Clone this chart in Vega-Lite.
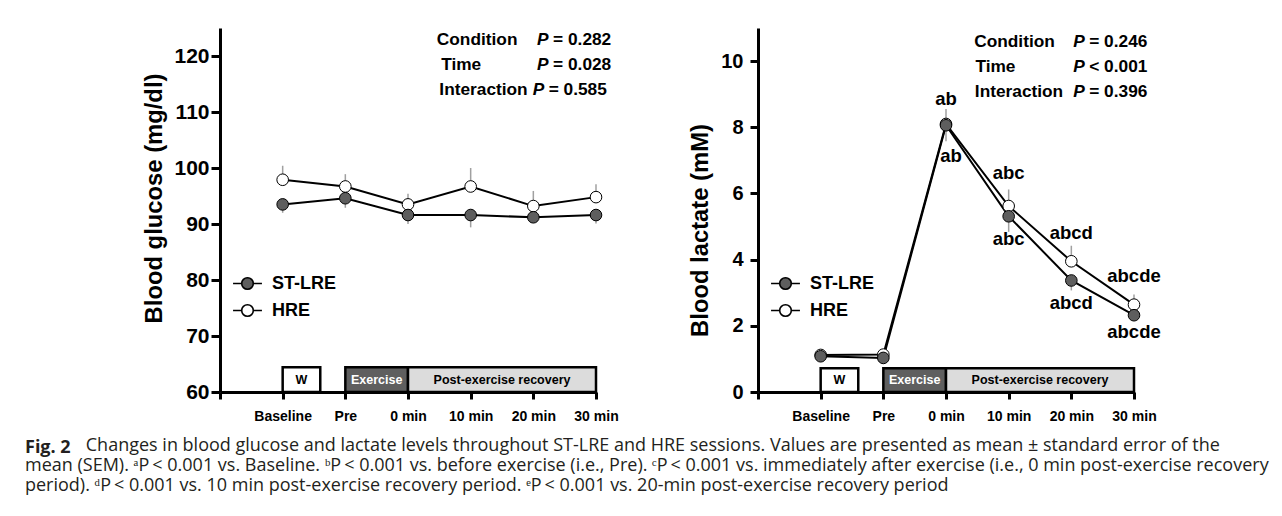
{
  "$schema": "https://vega.github.io/schema/vega-lite/v6.json",
  "background": "white",
  "padding": {"left": 25, "top": 28, "right": 10, "bottom": 10},
  "bounds": "flush",
  "spacing": 162,
  "resolve": {"scale": {"fill": "independent"}, "legend": {"fill": "independent"}},
  "title": {
    "text": "Fig. 2",
    "subtitle": [
      "\u200b\u00a0\u00a0\u00a0\u00a0\u00a0\u00a0\u00a0\u00a0\u00a0\u00a0\u00a0\u00a0\u00a0Changes in blood glucose and lactate levels throughout ST-LRE and HRE sessions. Values are presented as mean ± standard error of the",
      "mean (SEM). ᵃP\u2009< 0.001 vs. Baseline. ᵇP\u2009< 0.001 vs. before exercise (i.e., Pre). ᶜP\u2009< 0.001 vs. immediately after exercise (i.e., 0 min post-exercise recovery",
      "period). ᵈP\u2009< 0.001 vs. 10 min post-exercise recovery period. ᵉP\u2009< 0.001 vs. 20-min post-exercise recovery period"
    ],
    "orient": "bottom",
    "anchor": "start",
    "frame": "group",
    "font": "Open Sans",
    "fontSize": 18,
    "fontWeight": "bold",
    "color": "#231f20",
    "subtitleFont": "Open Sans",
    "subtitleFontSize": 18,
    "subtitleFontWeight": "normal",
    "subtitleColor": "#231f20",
    "subtitleLineHeight": 20,
    "subtitlePadding": -20,
    "offset": 16,
    "dx": -195
  },
  "datasets": {
    "glucose": [
      {"condition": "HRE", "t": 1, "mean": 97.9, "lo": 97.9, "hi": 100.4},
      {"condition": "HRE", "t": 2, "mean": 96.7, "lo": 96.7, "hi": 98.9},
      {"condition": "HRE", "t": 3, "mean": 93.5, "lo": 93.5, "hi": 95.4},
      {"condition": "HRE", "t": 4, "mean": 96.7, "lo": 96.7, "hi": 100.0},
      {"condition": "HRE", "t": 5, "mean": 93.2, "lo": 93.2, "hi": 95.9},
      {"condition": "HRE", "t": 6, "mean": 94.8, "lo": 94.8, "hi": 97.1},
      {"condition": "ST-LRE", "t": 1, "mean": 93.5, "lo": 92.0, "hi": 93.5},
      {"condition": "ST-LRE", "t": 2, "mean": 94.6, "lo": 92.9, "hi": 94.6},
      {"condition": "ST-LRE", "t": 3, "mean": 91.6, "lo": 90.0, "hi": 91.6},
      {"condition": "ST-LRE", "t": 4, "mean": 91.6, "lo": 89.4, "hi": 91.6},
      {"condition": "ST-LRE", "t": 5, "mean": 91.2, "lo": 90.3, "hi": 91.2},
      {"condition": "ST-LRE", "t": 6, "mean": 91.6, "lo": 90.1, "hi": 91.6}
    ],
    "lactate": [
      {"condition": "HRE", "t": 1, "mean": 1.12, "lo": 1.12, "hi": 1.2, "lab": null},
      {"condition": "HRE", "t": 2, "mean": 1.13, "lo": 1.13, "hi": 1.22, "lab": null},
      {"condition": "HRE", "t": 3, "mean": 8.1, "lo": 8.1, "hi": 8.55, "lab": "ab"},
      {"condition": "HRE", "t": 4, "mean": 5.62, "lo": 5.62, "hi": 6.12, "lab": "abc"},
      {"condition": "HRE", "t": 5, "mean": 3.95, "lo": 3.95, "hi": 4.42, "lab": "abcd"},
      {"condition": "HRE", "t": 6, "mean": 2.64, "lo": 2.64, "hi": 2.95, "lab": "abcde"},
      {"condition": "ST-LRE", "t": 1, "mean": 1.08, "lo": 1.0, "hi": 1.08, "lab": null},
      {"condition": "ST-LRE", "t": 2, "mean": 1.03, "lo": 0.95, "hi": 1.03, "lab": null},
      {"condition": "ST-LRE", "t": 3, "mean": 8.06, "lo": 7.58, "hi": 8.06, "lab": "ab"},
      {"condition": "ST-LRE", "t": 4, "mean": 5.31, "lo": 4.84, "hi": 5.31, "lab": "abc"},
      {"condition": "ST-LRE", "t": 5, "mean": 3.37, "lo": 3.07, "hi": 3.37, "lab": "abcd"},
      {"condition": "ST-LRE", "t": 6, "mean": 2.32, "lo": 2.22, "hi": 2.32, "lab": "abcde"}
    ],
    "phasesL": [
      {"phase": "W", "x0": 1, "x1": 1.6, "xm": 1.3, "y0": 60, "y1": 64.4, "ym": 62.2},
      {"phase": "Exercise", "x0": 2, "x1": 3, "xm": 2.5, "y0": 60, "y1": 64.4, "ym": 62.2},
      {"phase": "Post-exercise recovery", "x0": 3, "x1": 6, "xm": 4.5, "y0": 60, "y1": 64.4, "ym": 62.2}
    ],
    "phasesR": [
      {"phase": "W", "x0": 1, "x1": 1.6, "xm": 1.3, "y0": 0, "y1": 0.72, "ym": 0.36},
      {"phase": "Exercise", "x0": 2, "x1": 3, "xm": 2.5, "y0": 0, "y1": 0.72, "ym": 0.36},
      {"phase": "Post-exercise recovery", "x0": 3, "x1": 6, "xm": 4.5, "y0": 0, "y1": 0.72, "ym": 0.36}
    ],
    "statsL": [
      {"name": "Condition", "p": "= 0.282", "nx": 3.46, "px": 5.06, "y": 122.9},
      {"name": "Time", "p": "= 0.028", "nx": 3.53, "px": 5.06, "y": 118.4},
      {"name": "Interaction", "p": "= 0.585", "nx": 3.5, "px": 4.99, "y": 113.9}
    ],
    "statsR": [
      {"name": "Condition", "p": "= 0.246", "nx": 3.45, "px": 5.03, "y": 10.58},
      {"name": "Time", "p": "< 0.001", "nx": 3.47, "px": 5.03, "y": 9.82},
      {"name": "Interaction", "p": "= 0.396", "nx": 3.46, "px": 5.03, "y": 9.06}
    ]
  },
  "hconcat": [
    {
      "width": 376,
      "height": 364,
      "encoding": {
        "x": {
          "field": "t", "type": "quantitative",
          "scale": {"domain": [0, 6], "nice": false, "zero": false},
          "axis": {
            "values": [0, 1, 2, 3, 4, 5, 6],
            "labelExpr": "datum.value==1?'Baseline':datum.value==2?'Pre':datum.value==3?'0 min':datum.value==4?'10 min':datum.value==5?'20 min':datum.value==6?'30 min':''",
            "title": null, "labelFontSize": 14, "tickSize": 7, "labelPadding": 10,
            "labelFlush": false, "labelOverlap": false
          }
        },
        "y": {
          "field": "mean", "type": "quantitative",
          "scale": {"domain": [60, 125], "nice": false, "zero": false},
          "axis": {
            "values": [60, 70, 80, 90, 100, 110, 120],
            "title": "Blood glucose (mg/dl)", "titleFontSize": 23.8, "labelFontSize": 21,
            "tickSize": 9, "labelPadding": 2, "titlePadding": 7, "titleY": 170
          }
        }
      },
      "layer": [
        {
          "data": {"name": "glucose"},
          "mark": {"type": "line", "color": "black", "strokeWidth": 2},
          "encoding": {"detail": {"field": "condition"}}
        },
        {
          "data": {"name": "glucose"},
          "mark": {"type": "rule", "color": "#a0a0a0", "strokeWidth": 1.5},
          "encoding": {"y": {"field": "lo", "type": "quantitative"}, "y2": {"field": "hi"}}
        },
        {
          "data": {"name": "phasesL"},
          "mark": {"type": "rect", "stroke": "black", "strokeWidth": 2.5},
          "encoding": {
            "x": {"field": "x0", "type": "quantitative"},
            "x2": {"field": "x1"},
            "y": {"field": "y0", "type": "quantitative"},
            "y2": {"field": "y1"},
            "fill": {"condition": [{"test": "datum.phase==='Exercise'", "value": "#5f5f5f"}, {"test": "datum.phase==='W'", "value": "white"}], "value": "#dcdcdc"}
          }
        },
        {
          "data": {"name": "phasesL"},
          "mark": {"type": "text", "fontSize": 12.5, "fontWeight": "bold", "baseline": "middle"},
          "encoding": {
            "x": {"field": "xm", "type": "quantitative"},
            "y": {"field": "ym", "type": "quantitative"},
            "text": {"field": "phase"},
            "color": {"condition": {"test": "datum.phase==='Exercise'", "value": "white"}, "value": "black"}
          }
        },
        {
          "data": {"name": "glucose"},
          "mark": {"type": "circle", "size": 135, "stroke": "black", "strokeWidth": 1, "opacity": 1},
          "encoding": {
            "fill": {
              "field": "condition", "type": "nominal",
              "scale": {"domain": ["ST-LRE", "HRE"], "range": ["#5e5e5e", "#ffffff"]},
              "legend": {
                "title": null, "orient": "none", "legendX": 13, "legendY": 241, "direction": "vertical",
                "symbolType": "M-1.07,0H-0.43M0.43,0H1.07M0.43,0A0.43,0.43,0,1,1,-0.43,0A0.43,0.43,0,1,1,0.43,0Z",
                "symbolSize": 729, "symbolStrokeColor": "black", "symbolStrokeWidth": 1.6, "symbolOpacity": 1,
                "labelFontSize": 18, "labelFontWeight": "bold", "labelColor": "black", "labelFont": "Liberation Sans",
                "labelOffset": 10, "rowPadding": 3, "padding": 0
              }
            }
          }
        },
        {
          "data": {"name": "statsL"},
          "mark": {"type": "text", "fontSize": 17.3, "fontWeight": "bold", "align": "left", "baseline": "middle", "color": "black"},
          "encoding": {"x": {"field": "nx", "type": "quantitative"}, "y": {"field": "y", "type": "quantitative"}, "text": {"field": "name"}}
        },
        {
          "data": {"name": "statsL"},
          "mark": {"type": "text", "fontSize": 17.3, "fontWeight": "bold", "fontStyle": "italic", "align": "left", "baseline": "middle", "color": "black"},
          "encoding": {"x": {"field": "px", "type": "quantitative"}, "y": {"field": "y", "type": "quantitative"}, "text": {"value": "P"}}
        },
        {
          "data": {"name": "statsL"},
          "mark": {"type": "text", "fontSize": 17.3, "fontWeight": "bold", "align": "left", "baseline": "middle", "dx": 16, "color": "black"},
          "encoding": {"x": {"field": "px", "type": "quantitative"}, "y": {"field": "y", "type": "quantitative"}, "text": {"field": "p"}}
        }
      ]
    },
    {
      "width": 376,
      "height": 364,
      "encoding": {
        "x": {
          "field": "t", "type": "quantitative",
          "scale": {"domain": [0, 6], "nice": false, "zero": false},
          "axis": {
            "values": [0, 1, 2, 3, 4, 5, 6],
            "labelExpr": "datum.value==1?'Baseline':datum.value==2?'Pre':datum.value==3?'0 min':datum.value==4?'10 min':datum.value==5?'20 min':datum.value==6?'30 min':''",
            "title": null, "labelFontSize": 14, "tickSize": 7, "labelPadding": 10,
            "labelFlush": false, "labelOverlap": false
          }
        },
        "y": {
          "field": "mean", "type": "quantitative",
          "scale": {"domain": [0, 11], "nice": false, "zero": false},
          "axis": {
            "values": [0, 2, 4, 6, 8, 10],
            "title": "Blood lactate (mM)", "titleFontSize": 23.8, "labelFontSize": 20,
            "tickSize": 8, "labelPadding": 7, "titlePadding": 8, "titleY": 202
          }
        }
      },
      "layer": [
        {
          "data": {"name": "lactate"},
          "mark": {"type": "line", "color": "black", "strokeWidth": 2},
          "encoding": {"detail": {"field": "condition"}}
        },
        {
          "data": {"name": "lactate"},
          "mark": {"type": "rule", "color": "#a0a0a0", "strokeWidth": 1.5},
          "encoding": {"y": {"field": "lo", "type": "quantitative"}, "y2": {"field": "hi"}}
        },
        {
          "data": {"name": "phasesR"},
          "mark": {"type": "rect", "stroke": "black", "strokeWidth": 2.5},
          "encoding": {
            "x": {"field": "x0", "type": "quantitative"},
            "x2": {"field": "x1"},
            "y": {"field": "y0", "type": "quantitative"},
            "y2": {"field": "y1"},
            "fill": {"condition": [{"test": "datum.phase==='Exercise'", "value": "#5f5f5f"}, {"test": "datum.phase==='W'", "value": "white"}], "value": "#dcdcdc"}
          }
        },
        {
          "data": {"name": "phasesR"},
          "mark": {"type": "text", "fontSize": 12.5, "fontWeight": "bold", "baseline": "middle"},
          "encoding": {
            "x": {"field": "xm", "type": "quantitative"},
            "y": {"field": "ym", "type": "quantitative"},
            "text": {"field": "phase"},
            "color": {"condition": {"test": "datum.phase==='Exercise'", "value": "white"}, "value": "black"}
          }
        },
        {
          "data": {"name": "lactate"},
          "mark": {"type": "circle", "size": 135, "stroke": "black", "strokeWidth": 1, "opacity": 1},
          "encoding": {
            "fill": {
              "field": "condition", "type": "nominal",
              "scale": {"domain": ["ST-LRE", "HRE"], "range": ["#5e5e5e", "#ffffff"]},
              "legend": {
                "title": null, "orient": "none", "legendX": 13, "legendY": 241, "direction": "vertical",
                "symbolType": "M-1.07,0H-0.43M0.43,0H1.07M0.43,0A0.43,0.43,0,1,1,-0.43,0A0.43,0.43,0,1,1,0.43,0Z",
                "symbolSize": 729, "symbolStrokeColor": "black", "symbolStrokeWidth": 1.6, "symbolOpacity": 1,
                "labelFontSize": 18, "labelFontWeight": "bold", "labelColor": "black", "labelFont": "Liberation Sans",
                "labelOffset": 10, "rowPadding": 3, "padding": 0
              }
            }
          }
        },
        {
          "data": {"name": "lactate"},
          "transform": [{"filter": "datum.lab != null && datum.condition === 'HRE' && datum.t == 3"}],
          "mark": {"type": "text", "fontSize": 18.5, "fontWeight": "bold", "baseline": "middle", "dy": -25, "color": "black"},
          "encoding": {"text": {"field": "lab"}}
        },
        {
          "data": {"name": "lactate"},
          "transform": [{"filter": "datum.lab != null && datum.condition === 'HRE' && datum.t == 4"}],
          "mark": {"type": "text", "fontSize": 18.5, "fontWeight": "bold", "baseline": "middle", "dy": -33, "color": "black"},
          "encoding": {"text": {"field": "lab"}}
        },
        {
          "data": {"name": "lactate"},
          "transform": [{"filter": "datum.lab != null && datum.condition === 'HRE' && datum.t >= 5"}],
          "mark": {"type": "text", "fontSize": 18.5, "fontWeight": "bold", "baseline": "middle", "dy": -28.5, "color": "black"},
          "encoding": {"text": {"field": "lab"}}
        },
        {
          "data": {"name": "lactate"},
          "transform": [{"filter": "datum.lab != null && datum.condition === 'ST-LRE' && datum.t == 3"}],
          "mark": {"type": "text", "fontSize": 18.5, "fontWeight": "bold", "baseline": "middle", "dy": 31, "dx": 5, "color": "black"},
          "encoding": {"text": {"field": "lab"}}
        },
        {
          "data": {"name": "lactate"},
          "transform": [{"filter": "datum.lab != null && datum.condition === 'ST-LRE' && (datum.t == 4 || datum.t == 5)"}],
          "mark": {"type": "text", "fontSize": 18.5, "fontWeight": "bold", "baseline": "middle", "dy": 22.5, "color": "black"},
          "encoding": {"text": {"field": "lab"}}
        },
        {
          "data": {"name": "lactate"},
          "transform": [{"filter": "datum.lab != null && datum.condition === 'ST-LRE' && datum.t == 6"}],
          "mark": {"type": "text", "fontSize": 18.5, "fontWeight": "bold", "baseline": "middle", "dy": 17, "color": "black"},
          "encoding": {"text": {"field": "lab"}}
        },
        {
          "data": {"name": "statsR"},
          "mark": {"type": "text", "fontSize": 17.3, "fontWeight": "bold", "align": "left", "baseline": "middle", "color": "black"},
          "encoding": {"x": {"field": "nx", "type": "quantitative"}, "y": {"field": "y", "type": "quantitative"}, "text": {"field": "name"}}
        },
        {
          "data": {"name": "statsR"},
          "mark": {"type": "text", "fontSize": 17.3, "fontWeight": "bold", "fontStyle": "italic", "align": "left", "baseline": "middle", "color": "black"},
          "encoding": {"x": {"field": "px", "type": "quantitative"}, "y": {"field": "y", "type": "quantitative"}, "text": {"value": "P"}}
        },
        {
          "data": {"name": "statsR"},
          "mark": {"type": "text", "fontSize": 17.3, "fontWeight": "bold", "align": "left", "baseline": "middle", "dx": 16, "color": "black"},
          "encoding": {"x": {"field": "px", "type": "quantitative"}, "y": {"field": "y", "type": "quantitative"}, "text": {"field": "p"}}
        }
      ]
    }
  ],
  "config": {
    "font": "Liberation Sans",
    "view": {"stroke": null},
    "axis": {
      "grid": false,
      "domainColor": "black", "domainWidth": 3,
      "tickColor": "black", "tickWidth": 3,
      "labelColor": "black", "labelFontWeight": "bold", "labelFont": "Liberation Sans",
      "titleColor": "black", "titleFontWeight": "bold", "titleFont": "Liberation Sans"
    },
    "text": {"font": "Liberation Sans"}
  }
}
